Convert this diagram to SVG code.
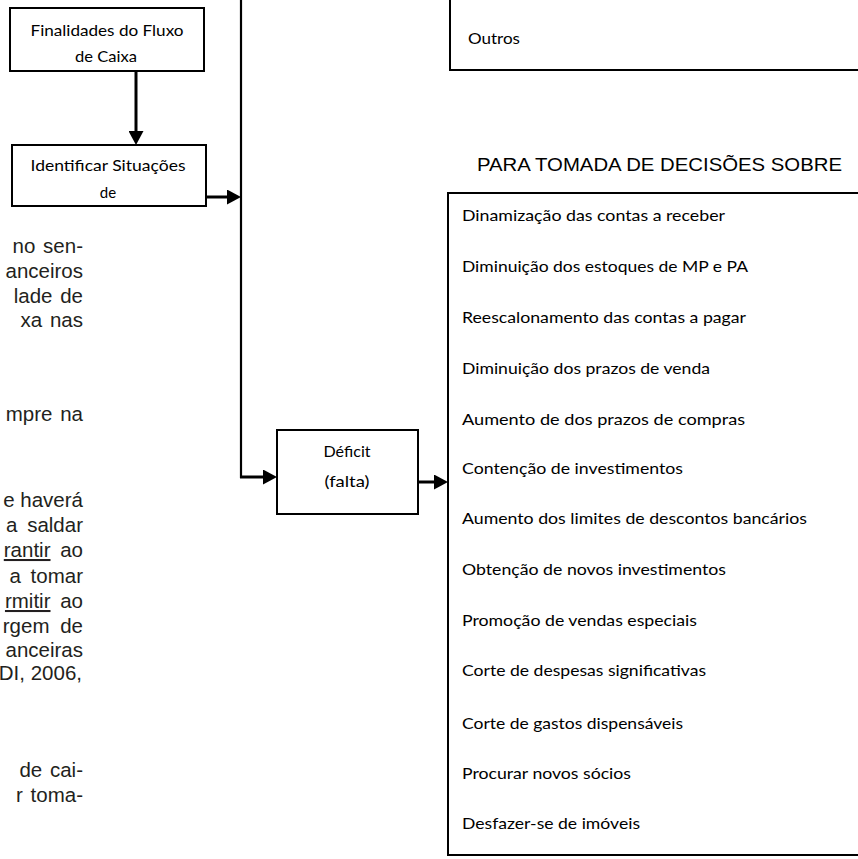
<svg xmlns="http://www.w3.org/2000/svg" width="858" height="859" viewBox="0 0 858 859">
  <defs>
    <marker id="arrow" markerUnits="userSpaceOnUse" viewBox="0 0 14 15" markerWidth="14" markerHeight="15" refX="8" refY="7.5" orient="auto">
      <path d="M0,0 L14,7.5 L0,15 z" fill="#000"/>
    </marker>
  </defs>
  <style>
    .box { fill: #fff; stroke: #000; stroke-width: 2; }
    .lbl { font-family: Lato, "Liberation Sans", sans-serif; font-size: 15px; fill: #000; }
    .mid { text-anchor: middle; }
    .conn { fill: none; stroke: #000; stroke-width: 3; marker-end: url(#arrow); }
    .body { font-family: "Liberation Sans", Arial, sans-serif; font-size: 20.5px; fill: #231f20; text-anchor: end; }
    .title { font-family: "Liberation Sans", Arial, sans-serif; font-size: 18.5px; fill: #000; }
  </style>
  <rect width="858" height="859" fill="#fff"/>

  <!-- background page text fragments -->
  <g id="page-text" class="body">
    <text x="83" y="253" word-spacing="2">no sen-</text>
    <text x="83" y="278">anceiros</text>
    <text x="83" y="303" word-spacing="2">lade de</text>
    <text x="83" y="327" word-spacing="2">xa nas</text>
    <text x="83" y="421" word-spacing="2">mpre na</text>
    <text x="83" y="507">e haverá</text>
    <text x="83" y="532" word-spacing="4">a saldar</text>
    <text x="83" y="557" word-spacing="4"><tspan text-decoration="underline">rantir</tspan> ao</text>
    <text x="83" y="583" word-spacing="4">a tomar</text>
    <text x="83" y="608" word-spacing="4"><tspan text-decoration="underline">rmitir</tspan> ao</text>
    <text x="83" y="633" word-spacing="5">rgem de</text>
    <text x="83" y="657">anceiras</text>
    <text x="82" y="680">DI, 2006,</text>
    <text x="83" y="777" word-spacing="2">de cai-</text>
    <text x="83" y="802" word-spacing="2">r toma-</text>
  </g>

  <g id="connectors">
    <path class="conn" d="M136,71 V139"/>
    <path class="conn" d="M206,197 H235"/>
    <path d="M241,0 V478" fill="none" stroke="#000" stroke-width="2.2"/>
    <path class="conn" d="M240,477 H271"/>
    <path class="conn" d="M418,482 H442"/>
  </g>

  <g id="finalidades">
    <rect class="box" x="10" y="8" width="194" height="63"/>
    <text class="lbl mid" x="107" y="36" textLength="153" lengthAdjust="spacingAndGlyphs">Finalidades do Fluxo</text>
    <text class="lbl mid" x="106" y="62" textLength="62" lengthAdjust="spacingAndGlyphs">de Caixa</text>
  </g>

  <g id="identificar">
    <rect class="box" x="12" y="145" width="194" height="61"/>
    <text class="lbl mid" x="108" y="171" textLength="155" lengthAdjust="spacingAndGlyphs">Identificar Situações</text>
    <text class="lbl mid" x="108" y="198">de</text>
  </g>

  <g id="deficit">
    <rect class="box" x="277" y="430" width="141" height="84"/>
    <text class="lbl mid" x="347" y="457" textLength="47" lengthAdjust="spacingAndGlyphs">Déficit</text>
    <text class="lbl mid" x="347" y="487" textLength="45" lengthAdjust="spacingAndGlyphs">(falta)</text>
  </g>

  <g id="outros">
    <path d="M450,-2 V70 H860" fill="none" stroke="#000" stroke-width="2"/>
    <text class="lbl" x="468" y="44" textLength="52" lengthAdjust="spacingAndGlyphs">Outros</text>
  </g>

  <g id="titulo">
    <text class="title" x="477" y="171" textLength="365" lengthAdjust="spacingAndGlyphs">PARA TOMADA DE DECISÕES SOBRE</text>
  </g>

  <g id="decisoes">
    <rect class="box" x="448" y="193" width="420" height="662"/>
    <text class="lbl" x="462" y="221" textLength="263" lengthAdjust="spacingAndGlyphs">Dinamização das contas a receber</text>
    <text class="lbl" x="462" y="272" textLength="286" lengthAdjust="spacingAndGlyphs">Diminuição dos estoques de MP e PA</text>
    <text class="lbl" x="462" y="323" textLength="284" lengthAdjust="spacingAndGlyphs">Reescalonamento das contas a pagar</text>
    <text class="lbl" x="462" y="374" textLength="248" lengthAdjust="spacingAndGlyphs">Diminuição dos prazos de venda</text>
    <text class="lbl" x="462" y="425" textLength="283" lengthAdjust="spacingAndGlyphs">Aumento de dos prazos de compras</text>
    <text class="lbl" x="462" y="474" textLength="221" lengthAdjust="spacingAndGlyphs">Contenção de investimentos</text>
    <text class="lbl" x="462" y="524" textLength="345" lengthAdjust="spacingAndGlyphs">Aumento dos limites de descontos bancários</text>
    <text class="lbl" x="462" y="575" textLength="264" lengthAdjust="spacingAndGlyphs">Obtenção de novos investimentos</text>
    <text class="lbl" x="462" y="626" textLength="235" lengthAdjust="spacingAndGlyphs">Promoção de vendas especiais</text>
    <text class="lbl" x="462" y="676" textLength="244" lengthAdjust="spacingAndGlyphs">Corte de despesas significativas</text>
    <text class="lbl" x="462" y="729" textLength="221" lengthAdjust="spacingAndGlyphs">Corte de gastos dispensáveis</text>
    <text class="lbl" x="462" y="779" textLength="169" lengthAdjust="spacingAndGlyphs">Procurar novos sócios</text>
    <text class="lbl" x="462" y="829" textLength="178" lengthAdjust="spacingAndGlyphs">Desfazer-se de imóveis</text>
  </g>
</svg>
